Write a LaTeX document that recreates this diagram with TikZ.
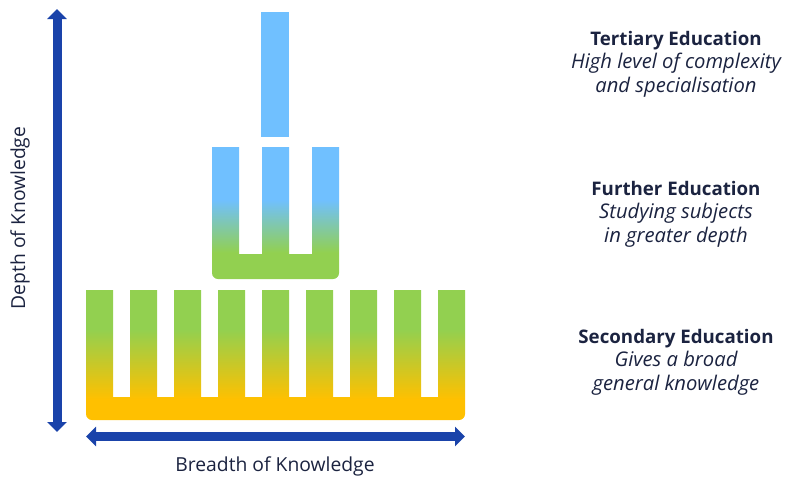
\documentclass[tikz,border=0pt]{standalone}
\usepackage{fontspec}
\setmainfont{Open Sans}
\usetikzlibrary{arrows.meta, positioning}

\definecolor{axisblue}{RGB}{26,67,170}
\definecolor{skyblue}{RGB}{112,192,255}
\definecolor{leafgreen}{RGB}{146,208,80}
\definecolor{ambergold}{RGB}{255,192,0}
\definecolor{inknavy}{RGB}{27,35,64}

\pgfdeclareverticalshading{secgrad}{100bp}{color(0bp)=(ambergold); color(33bp)=(ambergold); color(60bp)=(leafgreen); color(100bp)=(leafgreen)}
\pgfdeclareverticalshading{furgrad}{100bp}{color(0bp)=(leafgreen); color(35bp)=(leafgreen); color(55bp)=(skyblue); color(100bp)=(skyblue)}

\newcommand{\levelhead}[1]{{\fontsize{18.7}{23.5}\selectfont\upshape\bfseries #1}}

\tikzset{
  axis arrow/.style={line width=9pt, draw=axisblue,
    {Triangle[width=19pt,length=10pt]}-{Triangle[width=19pt,length=10pt]}},
  axis label/.style={font=\fontsize{19.3}{22}\selectfont, text=inknavy},
  level text/.style={align=center, text=inknavy, font=\fontsize{20.2}{23.5}\selectfont\itshape}
}

\begin{document}
\begin{tikzpicture}[x=1pt, y=-1pt]
    \useasboundingbox (0,0) rectangle (790,477);

    % tertiary: one tall bar
    \fill[skyblue] (261,12) rectangle (289,137);

    % further: three teeth
    \shade[shading=furgrad] (212,147)
      foreach \k in {1,2} {-- ++(27,0) -- ++(0,107) -- ++(23,0) -- ++(0,-107)}
      -- (339,147) -- (339,273) arc[start angle=0, end angle=90, radius=6]
      -- (218,279) arc[start angle=90, end angle=180, radius=6] -- cycle;

    % secondary: nine teeth
    \shade[shading=secgrad] (86,290)
      foreach \k in {1,...,8} {-- ++(27,0) -- ++(0,107) -- ++(17,0) -- ++(0,-107)}
      -- (465,290) -- (465,414) arc[start angle=0, end angle=90, radius=6]
      -- (92,420) arc[start angle=90, end angle=180, radius=6] -- cycle;

    % axes
    \coordinate (depth top) at (57,9);
    \coordinate (depth bottom) at (57,432);
    \coordinate (breadth left) at (86,436.5);
    \coordinate (breadth right) at (465,436.5);
    \draw[axis arrow] (depth bottom) -- (depth top);
    \draw[axis arrow] (breadth left) -- (breadth right);

    \node[axis label, rotate=90] (depth label) at (20,218) {Depth of Knowledge};
    \node[axis label] (breadth label) at (275,466) {Breadth of Knowledge};

    % level descriptions
    \node[level text] (tertiary text) at (676,64)
      {\levelhead{Tertiary Education}\\High level of complexity\\and specialisation};
    \node[level text] (further text) at (676,214)
      {\levelhead{Further Education}\\Studying subjects\\in greater depth};
    \node[level text] (secondary text) at (676,362)
      {\levelhead{Secondary Education}\\Gives a broad\\general knowledge};
\end{tikzpicture}
\end{document}
